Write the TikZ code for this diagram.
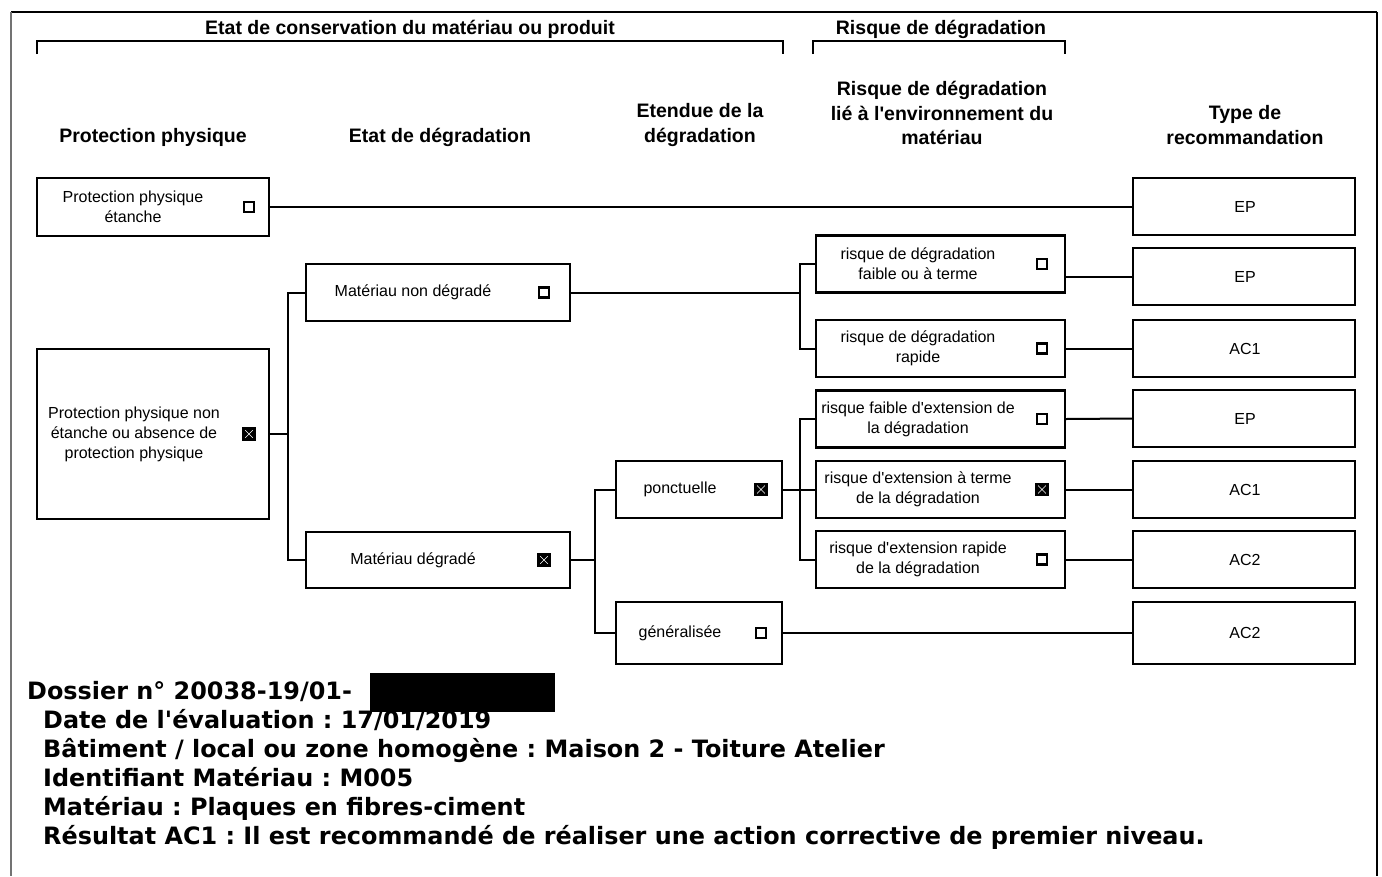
\documentclass[tikz,border=0pt]{standalone}
\usepackage{fontspec}
\setmainfont{Liberation Sans}
\newfontfamily\verd{DejaVu Sans}
\newcommand\sq{\textquotesingle}
\begin{document}
\begin{tikzpicture}[x=1pt,y=-1pt,
  box/.style={draw, line width=2.3pt, inner sep=0pt, fill=white},
  btxt/.style={font=\fontsize{16}{20}\selectfont, align=center, inner sep=0pt},
  head/.style={font=\bfseries\fontsize{19.5}{24.5}\selectfont, align=center, inner sep=0pt},
  foot/.style={font=\verd\bfseries\frenchspacing\fontsize{23.9}{29}\selectfont, anchor=base west, inner sep=0pt},
  cb/.style={draw, line width=2.2pt, minimum size=10pt, inner sep=0pt},
  cbx/.style={cb, minimum size=11pt, fill=black, path picture={\draw[white, line width=0.5pt]
      (path picture bounding box.north west) -- (path picture bounding box.south east)
      (path picture bounding box.north east) -- (path picture bounding box.south west);}},
  conn/.style={line width=2pt},
  brk/.style={line width=2.8pt}]
\useasboundingbox (0,0) rectangle (1382,876);
% frame
\draw[line width=2pt] (11,12) -- (1377,12);
\draw[line width=2pt, black!55] (11,12) -- (11,876);
\draw[line width=2pt] (1377,12) -- (1377,876);
% brackets
\coordinate (b1a) at (37,54); \coordinate (b1b) at (783,54);
\coordinate (b2a) at (813,54); \coordinate (b2b) at (1065,54);
\draw[brk] (b1a) -- ++(0,-13) -| (b1b);
\draw[brk] (b2a) -- ++(0,-13) -| (b2b);
\node[head] (t1) at (410,29) {Etat de conservation du matériau ou produit};
\node[head] (t2) at (941,29) {Risque de dégradation};
% column headers
\node[head] (h1) at (153,137) {Protection physique};
\node[head] (h2) at (440,137) {Etat de dégradation};
\node[head] (h3) at (700,125) {Etendue de la\\dégradation};
\node[head] (h4) at (942,113) {Risque de dégradation\\lié à l\sq environnement du\\matériau};
\node[head] (h5) at (1245,125) {Type de\\recommandation};
% column 1
\node[box, minimum width=232pt, minimum height=58pt] (ppe) at (153,207) {};
\node[btxt] (ppet) at (133,207) {Protection physique\\étanche};
\node[cb] (ppec) at (249,207) {};
\node[box, minimum width=232pt, minimum height=170pt] (ppn) at (153,434) {};
\node[btxt] (ppnt) at (134,434) {Protection physique non\\étanche ou absence de\\protection physique};
\node[cbx] (ppnc) at (249,434) {};
% column 2
\node[box, minimum width=264pt, minimum height=57pt] (mnd) at (438,292.5) {};
\node[btxt] (mndt) at (413,292.5) {Matériau non dégradé};
\node[cb] (mndc) at (544,292.5) {};
\node[box, minimum width=264pt, minimum height=56pt] (md) at (438,560) {};
\node[btxt] (mdt) at (413,560) {Matériau dégradé};
\node[cbx] (mdc) at (544,560) {};
% column 3
\node[box, minimum width=166pt, minimum height=57pt] (pon) at (699,489.5) {};
\node[btxt] (pont) at (680,489.5) {ponctuelle};
\node[cbx] (ponc) at (761,489.5) {};
\node[box, minimum width=166pt, minimum height=62pt] (gen) at (699,633) {};
\node[btxt] (gent) at (680,633) {généralisée};
\node[cb] (genc) at (761,633) {};
% column 4
\foreach \n/\y/\t/\s in {r1/264/{risque de dégradation\\faible ou à terme}/cb,
                         r2/348.5/{risque de dégradation\\rapide}/cb,
                         r3/419/{risque faible d\sq extension de\\la dégradation}/cb,
                         r4/489.5/{risque d\sq extension à terme\\de la dégradation}/cbx,
                         r5/559.5/{risque d\sq extension rapide\\de la dégradation}/cb}{
  \node[box, minimum width=249pt, minimum height=57pt] (\n) at (940.5,\y) {};
  \node[btxt] (\n t) at (918,\y) {\t};
  \node[\s] (\n c) at (1042,\y) {};
}
% column 5
\foreach \n/\y/\t in {e1/206.5/EP, e2/276.5/EP, e3/348.5/AC1, e4/418.5/EP,
                      e5/489.5/AC1, e6/559.5/AC2}{
  \node[box, minimum width=222pt, minimum height=57pt] (\n) at (1244,\y) {};
  \node[btxt] (\n t) at (1245,\y) {\t};
}
\node[box, minimum width=222pt, minimum height=62pt] (e7) at (1244,633) {};
\node[btxt] (e7t) at (1245,633) {AC2};
% connectors
\coordinate (j1) at (288,434);
\coordinate (j2) at (800,292.5);
\coordinate (j3) at (595,560);
\coordinate (j4) at (800,489.5);
\draw[conn] (ppe.east) -- (ppe.east -| e1.west);
\draw[conn] (ppn.east) -- (j1);
\draw[conn] (j1) |- (mnd.west);
\draw[conn] (j1) |- (md.west);
\draw[conn] (mnd.east) -- (j2);
\draw[conn] (j2) |- (r1.west);
\draw[conn] (j2) |- (r2.west);
\draw[conn] (md.east) -- (j3);
\draw[conn] (j3) |- (pon.west);
\draw[conn] (j3) |- (gen.west);
\draw[conn] (pon.east) -- (j4);
\draw[conn] (j4) |- (r3.west);
\draw[conn] (j4) |- (r4.west);
\draw[conn] (j4) |- (r5.west);
\draw[conn] (r1.east |- e2.west) -- (e2.west);
\draw[conn] (r2.east) -- (e3.west);
\draw[conn] (r3.east) -- (e4.west);
\draw[conn] (r4.east) -- (e5.west);
\draw[conn] (r5.east) -- (e6.west);
\draw[conn] (gen.east) -- (e7.west);
% footer
\node[foot] (f1) at (27,699) {Dossier n° 20038-19/01-};
\fill (370,673) rectangle (555,712);
\node[foot] (f2) at (43,728) {Date de l'évaluation : 17/01/2019};
\node[foot] (f3) at (43,757) {Bâtiment / local ou zone homogène : Maison 2 - Toiture Atelier};
\node[foot] (f4) at (43,786) {Identifiant Matériau : M005};
\node[foot] (f5) at (43,815) {Matériau : Plaques en fibres-ciment};
\node[foot] (f6) at (43,844) {Résultat AC1 : Il est recommandé de réaliser une action corrective de premier niveau.};
\end{tikzpicture}
\end{document}
